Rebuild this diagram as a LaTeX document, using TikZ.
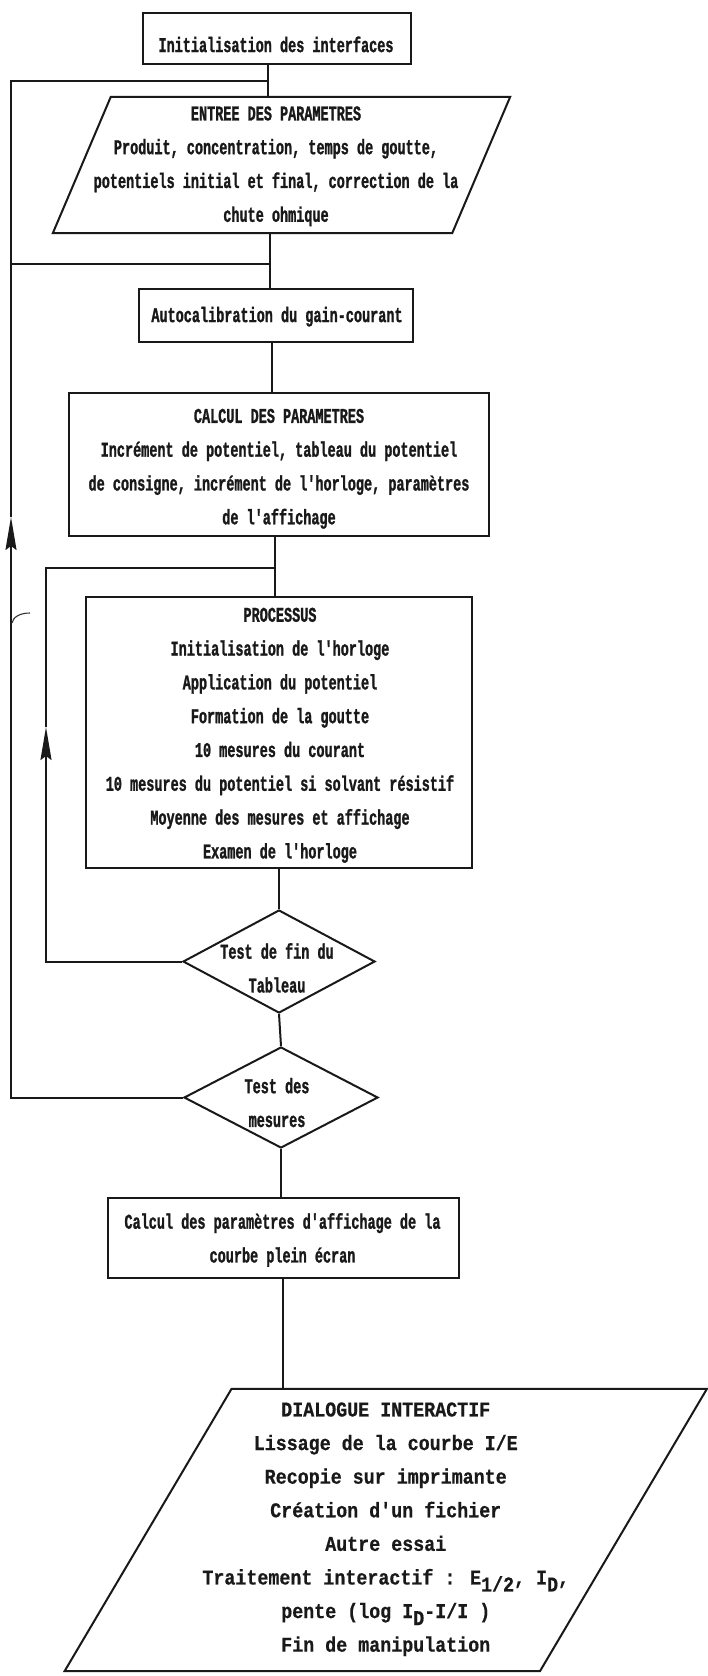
\documentclass[tikz,border=0pt]{standalone}
\usepackage{fontspec}
% condensed typewriter face for the flowchart, a wider cut for the dialogue box
\newfontfamily\flowfont{Liberation Mono}[FakeStretch=0.643, FakeBold=1.2, Ligatures=TeXOff]
\newfontfamily\dialogfont{Liberation Mono}[FakeStretch=0.873, FakeBold=0.6, Ligatures=TeXOff]
\usetikzlibrary{shapes.geometric,arrows.meta,calc}

% centred block of lines, shifted by (#1,#2), taking no room in its node
\newcommand\flowtext[3]{\raisebox{#2}[0pt][0pt]{\makebox[0pt]{\hspace*{#1}\hspace*{#1}\begin{tabular}{@{}c@{}}#3\end{tabular}}}}
\newcommand\lowsub[1]{\raisebox{-7pt}{#1}}
% parallelogram drawn round a plain node, #2 = half of the slant
\newcommand\slantbox[2]{\draw[link] ([xshift=#2]#1.north west) -- ([xshift=#2]#1.north east) -- ([xshift=-#2]#1.south east) -- ([xshift=-#2]#1.south west) -- cycle;}

\begin{document}
\begin{tikzpicture}[x=1pt, y=-1pt,
  link/.style={draw=black!90, line width=2pt},
  txt/.style={font=\flowfont\bfseries\fontsize{21}{33.8}\selectfont, text=black!90},
  box/.style={rectangle, link, inner sep=0pt, txt},
  body/.style={rectangle, draw=none, inner sep=0pt, txt},
  test/.style={diamond, link, inner sep=0pt, txt},
  uparrow/.style={-{Stealth[length=33pt, width=11pt, inset=4pt]}}]

\fill[white] (0,0) rectangle (707,1676);
\useasboundingbox (0,0) rectangle (707,1676);

% main column
\node[box, minimum width=268pt, minimum height=51pt] (init) at (277,38.5)
  {\flowtext{-1pt}{-12pt}{Initialisation des interfaces}};
\node[body, minimum width=399pt, minimum height=136pt] (entree) at (281.5,165)
  {\flowtext{-5.5pt}{-4.5pt}{ENTREE DES PARAMETRES\\Produit, concentration, temps de goutte,\\potentiels initial et final, correction de la\\chute ohmique}};
\slantbox{entree}{29pt}
\node[box, minimum width=274pt, minimum height=53pt] (autocal) at (276,315.5)
  {\flowtext{1pt}{-5pt}{Autocalibration du gain-courant}};
\node[box, minimum width=420pt, minimum height=143pt] (calc) at (279,464.5)
  {\flowtext{0pt}{-7.5pt}{CALCUL DES PARAMETRES\\Incrément de potentiel, tableau du potentiel\\de consigne, incrément de l'horloge, paramètres\\de l'affichage}};
\node[box, minimum width=386pt, minimum height=271pt] (proc) at (279,732.5)
  {\flowtext{1pt}{-6pt}{PROCESSUS\\Initialisation de l'horloge\\Application du potentiel\\Formation de la goutte\\10 mesures du courant\\10 mesures du potentiel si solvant résistif\\Moyenne des mesures et affichage\\Examen de l'horloge}};
\node[test, minimum width=192pt, minimum height=103pt] (testfin) at (279,961.5)
  {\flowtext{-2pt}{-12.5pt}{Test de fin du\\Tableau}};
\node[test, minimum width=194pt, minimum height=101pt] (testmes) at (281,1097.5)
  {\flowtext{-4pt}{-11pt}{Test des\\mesures}};
\node[box, minimum width=351pt, minimum height=80pt] (calcaff) at (283,1238)
  {\flowtext{-0.5pt}{-6pt}{Calcul des paramètres d'affichage de la\\courbe plein écran}};
\node[body, font=\dialogfont\bfseries\fontsize{21}{33.6}\selectfont, minimum width=475pt, minimum height=282pt] (dialog) at (385.75,1530)
  {\flowtext{0pt}{-2.5pt}{DIALOGUE INTERACTIF\\Lissage de la courbe I/E\\Recopie sur imprimante\\Création d'un fichier\\Autre essai\\Traitement interactif : E\lowsub{1/2}, I\lowsub{D},\\pente (log I\lowsub{D}-I/I )\\Fin de manipulation}};
\slantbox{dialog}{83.5pt}

% junctions and arrow points of the two loops
\coordinate (jtop) at (268,81);
\coordinate (jmid) at (270,264);
\coordinate (jin) at (275,568);
\coordinate (oarr) at (11,517);
\coordinate (iarr) at (46,727);

% downward flow
\draw[link] (jtop |- init.south) -- (jtop |- entree.north);
\draw[link] (jmid |- entree.south) -- (jmid |- autocal.north);
\draw[link] ([xshift=-4pt]autocal.south) -- ([xshift=-4pt]autocal.south |- calc.north);
\draw[link] (jin |- calc.south) -- (jin |- proc.north);
\draw[link] (proc.south) -- (testfin.north);
\draw[link] (testfin.south) -- (testmes.north);
\draw[link] (testmes.south) -- (testmes.south |- calcaff.north);
\draw[link] (calcaff.south) -- (calcaff.south |- dialog.north);

% outer loop: back to the parameter entry or to the calibration
\draw[link, uparrow] (testmes.west) -| (oarr);
\draw[link] (oarr) |- (jtop);
\draw[link] (oarr |- jmid) -- (jmid);
\draw[line width=1.1pt, black!80] (12,623) .. controls (13,617) and (20,613) .. (30,613);

% inner loop: back to the process
\draw[link, uparrow] (testfin.west) -| (iarr);
\draw[link] (iarr) |- (jin);
\end{tikzpicture}
\end{document}
